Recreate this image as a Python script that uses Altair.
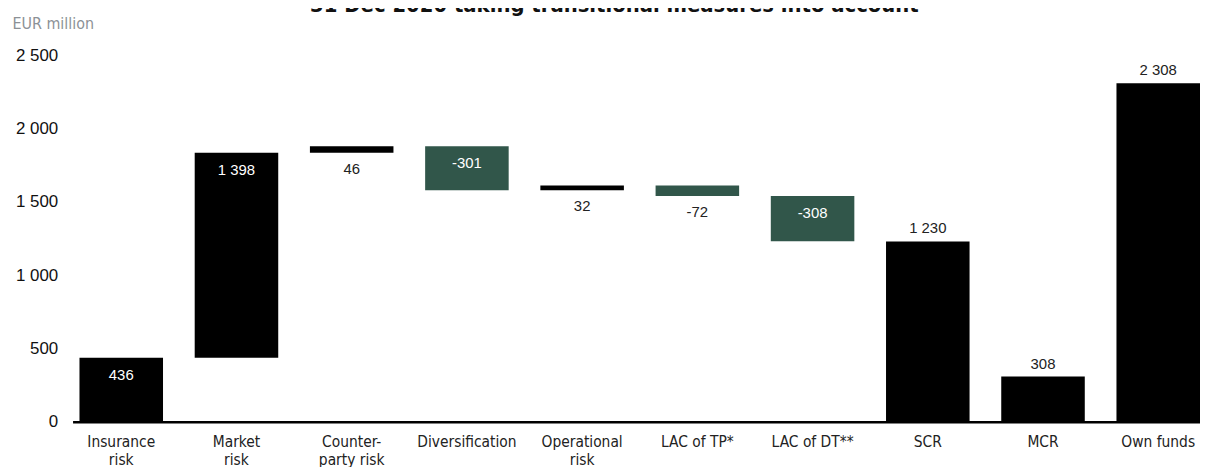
import altair as alt
import pandas as pd

categories = ["Insurance\nrisk", "Market\nrisk", "Counter-\nparty risk", "Diversification",
              "Operational\nrisk", "LAC of TP*", "LAC of DT**", "SCR", "MCR", "Own funds"]
values = [436, 1398, 46, -301, 32, -72, -308, 1230, 308, 2308]
kinds = ["delta"] * 7 + ["total"] * 3
y_ticks = [0, 500, 1000, 1500, 2000, 2500]

rows = []
running = 0
for cat, v, k in zip(categories, values, kinds):
    if k == "delta":
        start, end = running, running + v
        running = end
    else:
        start, end = 0, v
    if k == "total":
        place = "above"
    elif abs(v) < 100:
        place = "below"
    else:
        place = "inside"
    rows.append(dict(cat=cat, lo=min(start, end), hi=max(start, end),
                     label=f"{v:,}".replace(",", " "),
                     sign="neg" if v < 0 else "pos", place=place))
df = pd.DataFrame(rows)

NARROW = "Liberation Sans Narrow, DejaVu Sans Condensed, sans-serif"
REG = "Liberation Sans, Arial, sans-serif"

x = alt.X("cat:N", sort=categories,
          scale=alt.Scale(paddingInner=0.275, paddingOuter=0.03, align=1),
          axis=alt.Axis(title=None, labelAngle=0, labelExpr="split(datum.label, '\\n')",
                        ticks=False, domainColor="#000000", domainWidth=2.5,
                        labelPadding=13, labelFont=NARROW, labelFontSize=15.5,
                        labelLineHeight=18, labelColor="#222222"))

base = alt.Chart(df).encode(x=x)

bars = base.mark_bar().encode(
    y=alt.Y("lo:Q", scale=alt.Scale(domain=[0, 2500], nice=False),
            axis=alt.Axis(values=y_ticks, domain=False, ticks=False, grid=False,
                          labelExpr="replace(format(datum.value, ','), ',', ' ')",
                          labelPadding=15, labelFont=REG, labelFontSize=17,
                          labelColor="#111111",
                          title="EUR million", titleAngle=0, titleAlign="left",
                          titleBaseline="middle", titleX=-61, titleY=-32,
                          titleFont=NARROW, titleFontSize=16, titleFontWeight="normal",
                          titleColor="#8c9196")),
    y2="hi:Q",
    color=alt.Color("sign:N", scale=alt.Scale(domain=["pos", "neg"],
                                              range=["#000000", "#31564a"]), legend=None),
)

inside = base.mark_text(color="#ffffff", font=REG, fontSize=15, dy=17, baseline="middle").encode(
    y="hi:Q", text="label:N").transform_filter(alt.datum.place == "inside")
below = base.mark_text(color="#222222", font=REG, fontSize=15, dy=16, baseline="middle").encode(
    y="lo:Q", text="label:N").transform_filter(alt.datum.place == "below")
above = base.mark_text(color="#222222", font=REG, fontSize=15, dy=-13, baseline="middle").encode(
    y="hi:Q", text="label:N").transform_filter(alt.datum.place == "above")

chart = alt.layer(bars, inside, below, above).properties(
    width=1135, height=369,
    autosize=alt.AutoSizeParams(type="none"),
    padding={"left": 65, "top": 46, "right": 0, "bottom": 44},
    title=alt.Title("31 Dec 2020 taking transitional measures into account",
                    anchor="middle", frame="group", font=NARROW, fontSize=22,
                    fontWeight="bold", color="#111111", offset=0,
                    baseline="alphabetic", dx=-22, dy=18),
).configure_view(stroke=None)

chart.save("out.html", embed_options={"renderer": "svg", "actions": False})
